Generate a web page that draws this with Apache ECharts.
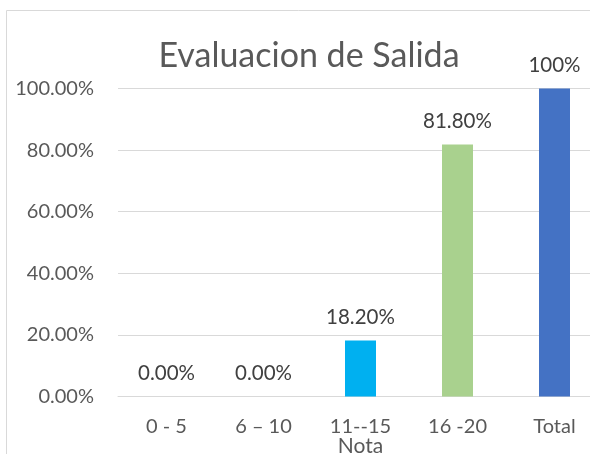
<!DOCTYPE html>
<html><head><meta charset="utf-8">
<script src="https://cdn.jsdelivr.net/npm/echarts@6/dist/echarts.min.js"></script>
<style>html,body{margin:0;padding:0;background:#fff}#c{width:590px;height:454px}</style>
</head><body><div id="c"></div>
<script>
const categories = ['0 - 5', '6 \u2013 10', '11--15', '16 -20', 'Total'];
const values = [0, 0, 18.2, 81.8, 100];
const valueLabels = ['0.00%', '0.00%', '18.20%', '81.80%', '100%'];
const barColors = ['#4472C4', '#4472C4', '#00B0F0', '#A9D18E', '#4472C4'];
const yTicks = [0, 20, 40, 60, 80, 100];

const FONT = 'Lato, "Open Sans", sans-serif';
const chart = echarts.init(document.getElementById('c'), null, {renderer: 'canvas'});
chart.setOption({
  animation: false,
  graphic: [{
    type: 'rect', shape: {x: 6.5, y: 10.5, width: 700, height: 600},
    style: {fill: 'none', stroke: '#D9D9D9', lineWidth: 1}, z: -1
  }],
  title: {
    text: 'Evaluacion de Salida', left: 304, top: 34, textAlign: 'center',
    textStyle: {fontFamily: FONT, fontSize: 34, fontWeight: 'normal', color: '#595959'}
  },
  grid: {left: 118, top: 88.5, width: 485, height: 308, containLabel: false, outerBoundsMode: 'none'},
  xAxis: {
    type: 'category', data: categories,
    name: 'Nota', nameLocation: 'middle', nameGap: 39, nameMoveOverlap: false,
    nameTextStyle: {fontFamily: FONT, fontSize: 21, color: '#595959', verticalAlign: 'top'},
    axisLine: {lineStyle: {color: '#D9D9D9', width: 1}},
    axisTick: {show: false},
    axisLabel: {fontFamily: FONT, fontSize: 20, color: '#595959', margin: 20}
  },
  yAxis: {
    type: 'value', min: 0, max: 100, interval: 20,
    axisLine: {show: false}, axisTick: {show: false},
    splitLine: {lineStyle: {color: '#D9D9D9', width: 1}},
    axisLabel: {fontFamily: FONT, fontSize: 20, color: '#595959', margin: 24,
      formatter: v => yTicks.includes(v) ? v.toFixed(2) + '%' : ''}
  },
  series: [{
    type: 'bar', barWidth: 31,
    data: values.map((v, i) => ({value: v, itemStyle: {color: barColors[i]},
      label: {formatter: valueLabels[i]}})),
    label: {show: true, position: 'top', distance: 13,
      fontFamily: FONT, fontSize: 20.5, color: '#404040'}
  }]
});
</script></body></html>
